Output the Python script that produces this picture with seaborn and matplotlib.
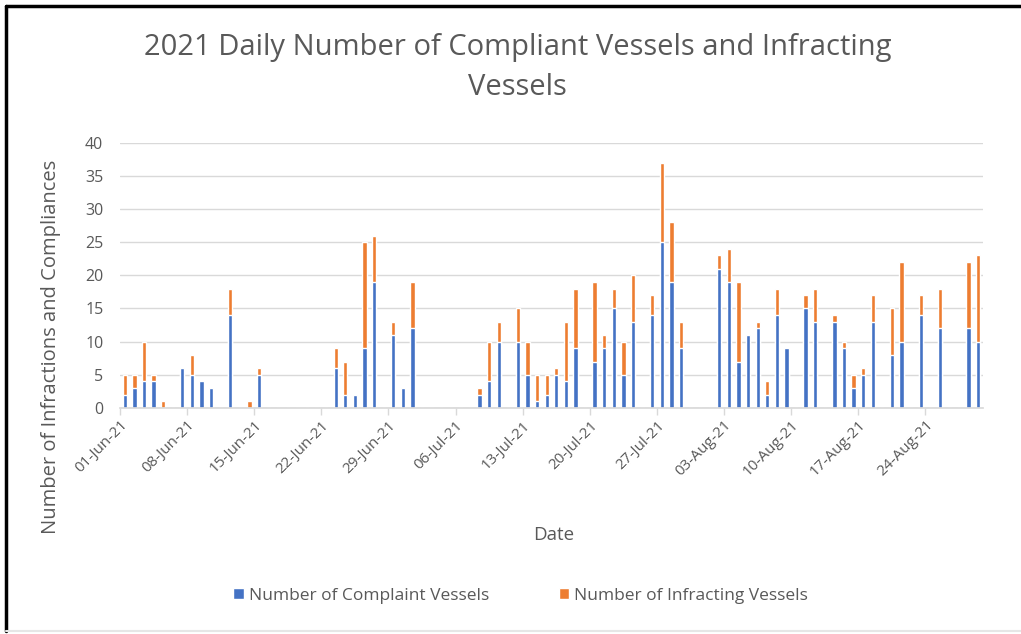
import numpy as np
import pandas as pd
import seaborn as sns
import matplotlib.pyplot as plt
from matplotlib.patches import Patch
from matplotlib.lines import Line2D

sns.set_theme(style="whitegrid")
plt.rcParams["font.family"] = ["Open Sans", "DejaVu Sans"]

# ----------------------------
# Data
# ----------------------------
dates = [
    "2021-06-01", "2021-06-02", "2021-06-03", "2021-06-04", "2021-06-05",
    "2021-06-07", "2021-06-08", "2021-06-09", "2021-06-10", "2021-06-12",
    "2021-06-14", "2021-06-15", "2021-06-23", "2021-06-24", "2021-06-25",
    "2021-06-26", "2021-06-27", "2021-06-29", "2021-06-30", "2021-07-01",
    "2021-07-08", "2021-07-09", "2021-07-10", "2021-07-12", "2021-07-13",
    "2021-07-14", "2021-07-15", "2021-07-16", "2021-07-17", "2021-07-18",
    "2021-07-20", "2021-07-21", "2021-07-22", "2021-07-23", "2021-07-24",
    "2021-07-26", "2021-07-27", "2021-07-28", "2021-07-29", "2021-08-02",
    "2021-08-03", "2021-08-04", "2021-08-05", "2021-08-06", "2021-08-07",
    "2021-08-08", "2021-08-09", "2021-08-11", "2021-08-12", "2021-08-14",
    "2021-08-15", "2021-08-16", "2021-08-17", "2021-08-18", "2021-08-20",
    "2021-08-21", "2021-08-23", "2021-08-25", "2021-08-28", "2021-08-29",
]
compliant = [
    2, 3, 4, 4, 0, 6, 5, 4, 3, 14,
    0, 5, 6, 2, 2, 9, 19, 11, 3, 12,
    2, 4, 10, 10, 5, 1, 2, 5, 4, 9,
    7, 9, 15, 5, 13, 14, 25, 19, 9, 21,
    19, 7, 11, 12, 2, 14, 9, 15, 13, 13,
    9, 3, 5, 13, 8, 10, 14, 12, 12, 10,
]
infracting = [
    3, 2, 6, 1, 1, 0, 3, 0, 0, 4,
    1, 1, 3, 5, 0, 16, 7, 2, 0, 7,
    1, 6, 3, 5, 5, 4, 3, 1, 9, 9,
    12, 2, 3, 5, 7, 3, 12, 9, 4, 2,
    5, 12, 0, 1, 2, 4, 0, 2, 5, 1,
    1, 2, 1, 4, 7, 12, 3, 6, 10, 13,
]

series_labels = ["Number of Complaint Vessels", "Number of Infracting Vessels"]
colors = ["#4472C4", "#ED7D31"]
text_color = "#595959"

# full daily axis, days without records are zero
all_days = pd.date_range("2021-06-01", "2021-08-29", freq="D")
df = pd.DataFrame({
    "date": pd.to_datetime(dates),
    "compliant": compliant,
    "infracting": infracting,
}).set_index("date").reindex(all_days, fill_value=0)
df["total"] = df["compliant"] + df["infracting"]
df["day"] = df.index.strftime("%Y-%m-%d")
df = df.reset_index(drop=True)

# ----------------------------
# Plot
# ----------------------------
fig = plt.figure(figsize=(10.21, 6.34), dpi=100)
ax = fig.add_axes([0.1175, 0.3565, 0.8453, 0.4185])

order = df["day"].tolist()
sns.barplot(data=df, x="day", y="total", order=order, color=colors[1],
            width=0.45, saturation=1, ax=ax)
sns.barplot(data=df, x="day", y="compliant", order=order, color=colors[0],
            width=0.45, saturation=1, ax=ax)

ax.set_xlim(-0.5, len(order) - 0.5)
ax.set_ylim(0, 40)
ax.set_yticks(range(0, 41, 5))

tick_pos = np.arange(0, len(order), 7) - 0.5
tick_lab = [all_days[int(p + 0.5)].strftime("%d-%b-%y") for p in tick_pos]
ax.set_xticks(tick_pos)
ax.set_xticklabels(tick_lab, rotation=45, ha="right", rotation_mode="anchor",
                   fontsize=11, color=text_color)
ax.tick_params(axis="y", labelsize=11.5, labelcolor=text_color, length=0, pad=12)
ax.tick_params(axis="x", length=5, width=1, color="#D9D9D9", bottom=True, pad=2)

ax.grid(axis="x", visible=False)
ax.grid(axis="y", color="#D9D9D9", linewidth=1)
for side in ["top", "right", "left"]:
    ax.spines[side].set_visible(False)
ax.spines["bottom"].set_color("#D9D9D9")
ax.set_axisbelow(True)

ax.set_xlabel("Date", fontsize=13.5, color=text_color)
ax.xaxis.set_label_coords(0.502, -0.445)
ax.set_ylabel("Number of Infractions and Compliances", fontsize=14.5, color=text_color)
ax.yaxis.set_label_coords(-0.068, 0.23)

fig.suptitle("2021 Daily Number of Compliant Vessels and Infracting\nVessels",
             x=0.507, y=0.948, fontsize=21, color=text_color, linespacing=1.5)

handles = [Patch(facecolor=c) for c in colors]
fig.legend(handles, series_labels, loc="center", bbox_to_anchor=(0.51, 0.06),
           ncol=2, frameon=False, fontsize=12.5, labelcolor=text_color,
           handlelength=0.6, handleheight=0.6, handletextpad=0.3, columnspacing=4)

# frame like the screenshot
fig.add_artist(Line2D([0.006, 0.006], [0.005, 0.991], color="black", lw=2.5))
fig.add_artist(Line2D([0.006, 1.0], [0.991, 0.991], color="black", lw=2.5))
fig.add_artist(Line2D([0.006, 1.0], [0.004, 0.004], color="#E6E6E6", lw=1.5))

fig.savefig("out.png", dpi=100)
